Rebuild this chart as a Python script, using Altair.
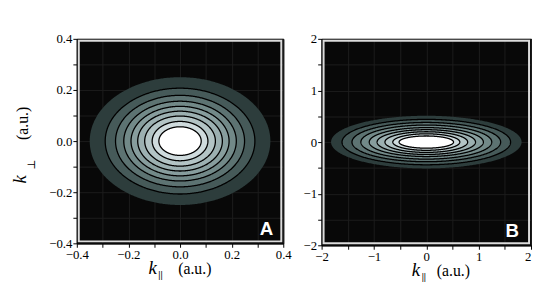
import altair as alt
import numpy as np
import pandas as pd

# ---- data ----
# semi-axes of the 9 contour ellipses (outer -> inner), data units
a_rx = [0.350, 0.290, 0.250, 0.218, 0.190, 0.164, 0.137, 0.108, 0.082]
a_ry = [0.250, 0.207, 0.179, 0.156, 0.136, 0.117, 0.098, 0.077, 0.056]
b_rx = [1.82, 1.61, 1.42, 1.25, 1.09, 0.94, 0.79, 0.64, 0.52]
b_ry = [0.51, 0.44, 0.38, 0.33, 0.28, 0.24, 0.20, 0.16, 0.118]
band_colors = ["#2d3d3c", "#465a59", "#5d7372", "#728988", "#879d9d",
               "#9cb0b1", "#b3c4c5", "#cfdbdd", "#ffffff"]
a_ticks = [-0.4, -0.3, -0.2, -0.1, 0.0, 0.1, 0.2, 0.3, 0.4]
b_ticks = [-2, -1.5, -1, -0.5, 0, 0.5, 1, 1.5, 2]

SERIF = "Liberation Serif"
one = pd.DataFrame({"d": [0]})


def ellipse(rx, ry):
    t = np.linspace(0, np.pi, 241)
    return pd.DataFrame({"x": rx * np.cos(t), "y": ry * np.sin(t), "y2": -ry * np.sin(t)})


def txt(text, x, y, size, italic=False, angle=0, font=SERIF, bold=False):
    kw = dict(text=text, font=font, fontSize=size, color="black", baseline="alphabetic")
    if italic:
        kw["fontStyle"] = "italic"
    if angle:
        kw["angle"] = angle
    if bold:
        kw["fontWeight"] = "bold"
    return alt.Chart(one).mark_text(**kw).encode(x=alt.value(x), y=alt.value(y))


def panel(rxs, rys, dom, ticks, lab_expr, W, H, letter, letter_pos, xtitle_pos, au_off, ytitle,
          flush_last=False):
    xs = alt.Scale(domain=dom, nice=False, zero=False)
    ys = alt.Scale(domain=dom, nice=False, zero=False)
    axis_common = dict(values=ticks, labelExpr=lab_expr, labelFont=SERIF, labelFontSize=13,
                       labelColor="black", tickColor="black", domainColor="black",
                       tickSize=4, labelPadding=1, labelOverlap=False, labelFlush=False,
                       grid=True, gridColor="#1d1d1d", gridWidth=1, title=None)
    x_axis = dict(axis_common)
    if flush_last:
        x_axis["labelAlign"] = {"condition": {"test": "datum.value >= %s" % dom[1], "value": "right"},
                                "value": "center"}
    layers = []
    for i, (rx, ry) in enumerate(zip(rxs, rys)):
        df = ellipse(rx, ry)
        kw = dict(color=band_colors[i], opacity=1)
        if i > 0:
            kw.update(stroke="black", strokeWidth=1.3)
        enc = dict(x=alt.X("x:Q", scale=xs, axis=alt.Axis(**x_axis)),
                   y=alt.Y("y:Q", scale=ys, axis=alt.Axis(**axis_common)),
                   y2="y2:Q")
        layers.append(alt.Chart(df).mark_area(**kw).encode(**enc))
    # inner light frame
    layers.append(alt.Chart(one).mark_rect(fillOpacity=0, stroke="#dcdcdc", strokeWidth=2).encode(
        x=alt.value(2), x2=alt.value(W - 2), y=alt.value(2), y2=alt.value(H - 2)))
    # panel letter
    layers.append(alt.Chart(one).mark_text(text=letter, font="Liberation Sans", fontWeight="bold",
                                           fontSize=19, color="white").encode(
        x=alt.value(letter_pos[0]), y=alt.value(letter_pos[1])))
    # x title k_|| (a.u.)
    kx, ky = xtitle_pos
    layers.append(txt("k", kx, ky, 19, italic=True))
    layers.append(txt("||", kx + 8, ky + 4, 10, bold=True))
    layers.append(txt("(a.u.)", kx + au_off, ky, 16))
    if ytitle:
        layers.append(txt("k", -52, 143, 19, italic=True, angle=270))
        layers.append(txt("\u22a5", -43, 128, 11, angle=270, font="DejaVu Serif"))
        layers.append(txt("(a.u.)", -50, 86, 16, angle=270))
    return alt.layer(*layers).properties(width=W, height=H)


lab_a = "abs(round(datum.value*10)) % 2 == 1 ? '' : replace(format(datum.value, '.1f'), '-', '\u2212')"
lab_b = "abs(round(datum.value*10)) % 10 != 0 ? '' : replace(format(datum.value, 'd'), '-', '\u2212')"

pa = panel(a_rx, a_ry, [-0.4, 0.4], a_ticks, lab_a, 210, 208, "A", (193, 194), (77, 239), 43, True)
pb = panel(b_rx, b_ry, [-2, 2], b_ticks, lab_b, 213, 210, "B", (194, 196), (96, 241), 38, False,
           flush_last=True)

chart = alt.hconcat(pa, pb, spacing=10).properties(
    padding={"left": 2, "top": 22, "right": 0, "bottom": 0}
).configure_view(stroke="black", strokeWidth=1, fill="#080808")

chart.save("out.html", embed_options={"renderer": "svg", "actions": False})
